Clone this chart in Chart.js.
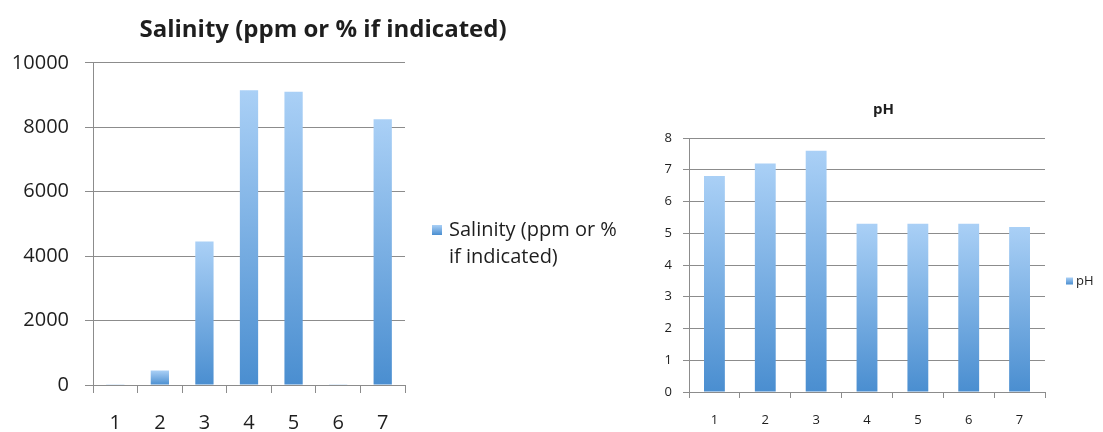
<!DOCTYPE html>
<html>
<head>
<meta charset="utf-8">
<script src="https://cdn.jsdelivr.net/npm/chart.js@4/dist/chart.umd.min.js"></script>
<style>
    body { margin: 0; background: #fff; width: 1103px; height: 432px; overflow: hidden; position: relative; }
    canvas { position: absolute; top: 0; }
    #salinity-chart { left: 0; }
    #ph-chart { left: 664px; }
</style>
</head>
<body>
<canvas id="salinity-chart" width="646" height="432"></canvas>
<canvas id="ph-chart" width="439" height="432"></canvas>
<script>
const categories = ['1', '2', '3', '4', '5', '6', '7'];
const salinityLabel = 'Salinity (ppm or % if indicated)';
const salinityValues = [20, 450, 4450, 9150, 9100, 20, 8250];
const salinityTicks = [0, 2000, 4000, 6000, 8000, 10000];
const phLabel = 'pH';
const phValues = [6.8, 7.2, 7.6, 5.3, 5.3, 5.3, 5.2];
const phTicks = [0, 1, 2, 3, 4, 5, 6, 7, 8];

const FONT = '"Open Sans", Lato, sans-serif';
const TEXT = '#1e1e1e';
const GRID = '#8c8c8c';

// each bar gets its own light-top / dark-bottom gradient
function barGradient(ctx) {
    const chart = ctx.chart;
    if (!chart.chartArea || ctx.parsed === undefined) return '#6fa8e2';
    const y = chart.scales.y;
    const top = y.getPixelForValue(ctx.parsed.y);
    const bottom = y.getPixelForValue(0);
    const g = chart.ctx.createLinearGradient(0, top, 0, bottom === top ? top + 1 : bottom);
    g.addColorStop(0, '#aad0f6');
    g.addColorStop(1, '#4a8ed0');
    return g;
}

// legend drawn beside the plot, wrapped like the original
const sideLegend = {
    id: 'sideLegend',
    afterDraw(chart, args, opts) {
        const ctx = chart.ctx;
        const label = chart.data.datasets[0].label;
        ctx.save();
        ctx.font = opts.size + 'px ' + FONT;
        const words = label.split(' ');
        const lines = [];
        let line = '';
        words.forEach(w => {
            const test = line ? line + ' ' + w : w;
            if (line && ctx.measureText(test).width > opts.maxWidth) {
                lines.push(line);
                line = w;
            } else {
                line = test;
            }
        });
        lines.push(line);
        const g = ctx.createLinearGradient(0, opts.y - opts.box / 2, 0, opts.y + opts.box / 2);
        g.addColorStop(0, '#aad0f6');
        g.addColorStop(1, '#4a8ed0');
        ctx.fillStyle = g;
        ctx.fillRect(opts.x, opts.y - opts.box / 2, opts.box, opts.box);
        ctx.fillStyle = TEXT;
        ctx.textBaseline = 'middle';
        ctx.textAlign = 'left';
        lines.forEach((l, i) => ctx.fillText(l, opts.x + opts.box + opts.gap, opts.y + i * opts.lineHeight));
        ctx.restore();
    }
};

function makeChart(id, label, values, ticks, s) {
    return new Chart(document.getElementById(id), {
        type: 'bar',
        data: {
            labels: categories,
            datasets: [{
                label: label,
                data: values,
                backgroundColor: barGradient,
                borderWidth: 0,
                categoryPercentage: 1,
                barPercentage: s.barPct
            }]
        },
        options: {
            responsive: false,
            animation: false,
            devicePixelRatio: 1,
            layout: { padding: 0 },
            plugins: {
                legend: { display: false },
                tooltip: { enabled: false },
                title: {
                    display: true,
                    text: label,
                    color: TEXT,
                    font: { family: FONT, size: s.titleSize, weight: 'bold', lineHeight: 1.2 },
                    padding: { top: s.titleTop, bottom: s.titleBottom }
                },
                sideLegend: s.legend
            },
            scales: {
                x: {
                    offset: true,
                    grid: { display: true, drawOnChartArea: false, drawTicks: true, tickLength: s.tick, color: GRID, offset: true },
                    border: { display: true, color: GRID },
                    ticks: { color: TEXT, font: { family: FONT, size: s.tickSize }, padding: s.xPad },
                    afterFit: scale => { scale.height = s.xHeight; }
                },
                y: {
                    min: 0,
                    max: ticks[ticks.length - 1],
                    afterBuildTicks: scale => { scale.ticks = ticks.map(v => ({ value: v })); },
                    grid: { color: GRID, drawTicks: true, tickLength: s.tick },
                    border: { display: true, color: GRID },
                    ticks: { color: TEXT, font: { family: FONT, size: s.tickSize }, padding: s.yPad, callback: v => String(v) },
                    afterFit: scale => { scale.width = s.yWidth; }
                },
                // empty right-hand axis that reserves the space the legend sits in
                legendSpace: {
                    type: 'linear',
                    position: 'right',
                    grid: { display: false },
                    border: { display: false },
                    ticks: { display: false },
                    afterFit: scale => { scale.width = s.padRight; }
                }
            }
        },
        plugins: [sideLegend]
    });
}

makeChart('salinity-chart', salinityLabel, salinityValues, salinityTicks, {
    barPct: 0.41, padRight: 241, titleSize: 24, titleTop: 16, titleBottom: 18,
    tickSize: 20, tick: 8, xPad: 18, yPad: 16, xHeight: 47, yWidth: 93,
    legend: { x: 432, y: 230, box: 10, gap: 7, size: 20, lineHeight: 27, maxWidth: 172 }
});

makeChart('ph-chart', phLabel, phValues, phTicks, {
    barPct: 0.41, padRight: 58, titleSize: 15, titleTop: 101, titleBottom: 19,
    tickSize: 13, tick: 6, xPad: 14, yPad: 11, xHeight: 40, yWidth: 25,
    legend: { x: 402, y: 281, box: 7, gap: 3, size: 13, lineHeight: 16, maxWidth: 60 }
});
</script>
</body>
</html>
